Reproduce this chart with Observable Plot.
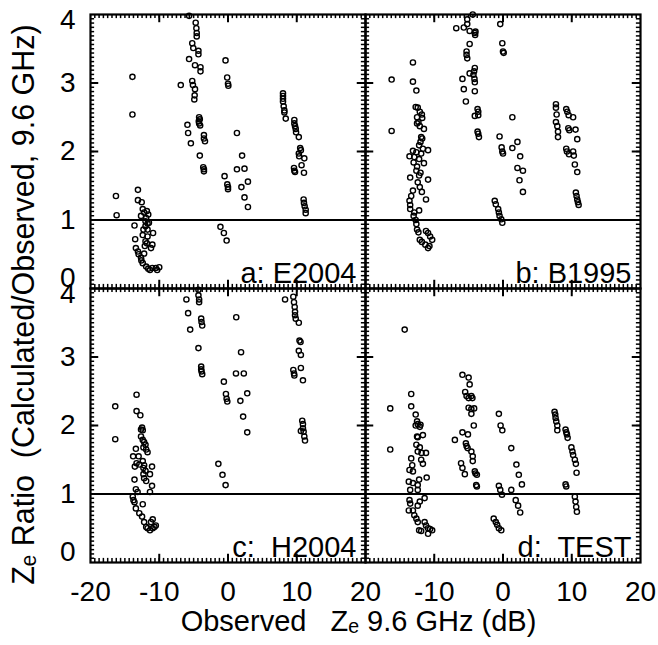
<!DOCTYPE html>
<html>
<head>
<meta charset="utf-8">
<script src="https://cdn.jsdelivr.net/npm/d3@7"></script>
<script src="https://cdn.jsdelivr.net/npm/@observablehq/plot@0.6"></script>
<style>
  body { margin: 0; background: #fff; }
  svg text { white-space: pre; }
</style>
</head>
<body>
<div id="chart"></div>
<script>
// ---- data ----
const panelA = [
  [-16.3,1.35],[-16.2,1.07],[-13.9,3.09],[-13.9,2.54],
  [-13.1,1.44],[-13.1,1.29],[-12.55,1.26],[-12.4,1.16],[-12.65,1.06],[-12.2,1.11],[-11.9,1.03],[-12.0,0.98],[-11.7,0.95],
  [-13.6,0.92],[-13.5,0.72],[-13.4,0.59],[-13.1,0.54],[-13.0,0.5],[-12.65,0.45],[-12.6,0.41],[-12.4,0.37],[-12.2,0.51],
  [-11.9,0.32],[-11.6,0.29],[-11.35,0.27],[-11.0,0.30],[-10.5,0.30],[-10.0,0.31],[-10.3,0.27],
  [-11.2,0.59],[-11.0,0.64],[-10.9,0.81],[-11.7,0.76],[-12.0,0.69],[-12.3,0.86],[-12.0,0.91],[-11.5,0.96],[-11.7,0.86],
  [-12.4,0.78],[-11.6,1.08],[-11.8,1.13],[-12.1,0.62],[-11.8,0.66],
  [-5.66,3.98],[-4.7,3.88],[-4.6,3.80],[-4.55,3.73],[-4.55,3.68],[-5.2,3.58],[-5.05,3.51],[-4.3,3.47],[-4.3,3.42],
  [-5.66,3.35],[-4.8,3.26],[-4.0,3.23],[-4.0,3.17],[-6.87,2.97],[-5.2,3.03],[-5.1,2.97],[-4.8,2.91],[-4.85,2.82],
  [-4.9,2.76],[-4.2,2.50],[-4.1,2.47],[-4.25,2.44],[-4.2,2.41],[-4.05,2.38],[-5.9,2.39],[-5.8,2.27],[-5.4,2.12],
  [-4.1,1.94],[-3.5,2.24],[-3.5,2.19],[-3.35,2.15],[-3.6,1.77],[-3.5,1.74],[-3.5,1.71],
  [-0.36,3.33],[-0.12,3.08],[0,2.99],[0.05,2.96],[-1.1,0.90],[-0.6,0.81],[-0.2,0.70],[-0.5,1.64],[-0.1,1.52],[0,1.48],[0,1.45],
  [1.3,2.27],[2.05,1.94],[1.3,1.74],[2.4,1.75],[1.95,1.48],[2.9,1.56],[2.4,1.33],[2.9,1.19],
  [8.0,2.85],[8.0,2.81],[8.0,2.77],[8.0,2.73],[8.1,2.66],[8.2,2.60],[8.2,2.57],[8.4,2.48],[9.65,2.46],[9.65,2.41],
  [9.75,2.37],[9.85,2.33],[9.9,2.28],[10.3,2.21],[10.5,2.05],[10.6,2.02],[10.3,1.97],[10.35,1.93],[11.1,1.9],[10.7,1.80],
  [11.05,1.69],[9.6,1.76],[9.65,1.72],[9.75,1.70],[11.0,1.30],[11.05,1.25],[11.15,1.20],[11.3,1.15],[11.3,1.10]
];
const panelB = [
  [-16.2,3.05],[-16.2,2.30],[-13.1,3.30],[-13.1,3.02],[-12.6,2.89],
  [-12.7,2.65],[-12.4,2.64],[-12.1,2.58],[-11.8,2.54],[-11.75,2.49],[-12.5,2.50],[-12.3,2.43],[-12.5,2.41],[-12.1,2.37],[-11.5,2.33],
  [-11.9,2.21],[-11.75,2.19],[-12.0,2.14],[-12.2,2.09],[-11.65,2.04],[-10.9,2.02],[-13.1,2.01],[-12.6,1.99],[-11.9,1.97],
  [-13.6,1.93],[-12.9,1.92],[-12.2,1.89],[-11.5,1.83],[-13.0,1.84],[-12.5,1.78],[-12.6,1.72],[-12.0,1.69],[-12.2,1.65],
  [-10.9,1.59],[-13.5,1.62],[-12.4,1.55],[-12.1,1.48],[-11.8,1.41],[-13.1,1.43],[-13.35,1.35],[-11.2,1.30],[-13.6,1.28],
  [-13.5,1.22],[-13.5,1.16],[-12.2,1.14],[-12.9,1.11],[-13.0,1.06],[-12.7,1.0],[-12.6,0.94],[-12.5,0.86],[-12.3,0.82],
  [-11.2,0.84],[-10.9,0.81],[-10.6,0.76],[-10.3,0.71],[-12.1,0.71],[-11.8,0.68],[-11.3,0.64],[-10.9,0.59],[-10.7,0.62],
  [-6.8,3.80],[-5.7,3.81],[-5.2,3.86],[-5.2,3.93],[-4.85,3.76],[-4.4,4.0],[-4.1,3.73],[-4.0,3.75],[-4.05,3.70],[-4.85,3.57],
  [-5.3,3.46],[-5.3,3.41],[-5.2,3.36],[-4.1,3.22],[-4.2,3.17],[-4.3,3.12],[-4.15,3.06],[-4.1,3.01],[-4.85,3.14],[-5.9,3.06],
  [-5.7,2.91],[-4.1,2.88],[-5.4,2.73],[-3.7,2.62],[-3.6,2.58],[-3.6,2.53],[-4.1,2.52],[-3.7,2.29],[-3.6,2.26],[-3.5,2.21],
  [-0.4,3.86],[-0.1,3.58],[0,3.46],[0.1,3.44],[-0.5,2.22],[-0.2,2.06],[-0.1,2.0],[0,1.97],
  [-1.2,1.28],[-1.05,1.23],[-0.7,1.16],[-0.6,1.11],[-0.5,1.06],[-0.25,1.01],[-0.1,0.96],
  [1.36,2.50],[1.36,2.05],[2.1,2.14],[2.5,1.93],[2.1,1.76],[2.9,1.72],[2.4,1.58],[2.9,1.41],
  [7.7,2.69],[7.7,2.64],[7.8,2.54],[7.7,2.43],[7.9,2.37],[8.0,2.29],[8.0,2.21],[9.2,2.62],[9.35,2.58],[9.55,2.53],
  [10.2,2.50],[9.5,2.34],[9.65,2.31],[10.55,2.32],[10.8,2.18],[9.2,2.04],[9.3,2.0],[9.6,1.96],[10.2,2.0],[10.3,1.94],
  [10.45,1.81],[10.8,1.70],[10.6,1.40],[10.7,1.35],[10.8,1.30],[10.9,1.26],[11.0,1.22]
];
const panelC = [
  [-16.4,2.28],[-16.4,1.80],[-13.3,2.45],[-13.3,2.21],[-12.75,2.15],
  [-12.5,1.97],[-12.65,1.94],[-12.4,1.93],[-12.65,1.84],[-12.4,1.79],[-12.2,1.76],[-12.0,1.72],[-12.3,1.68],[-11.9,1.65],[-11.7,1.61],
  [-13.4,1.66],[-13.8,1.55],[-13.0,1.55],[-13.3,1.45],[-12.9,1.43],[-13.55,1.40],
  [-12.4,1.48],[-12.2,1.42],[-12.3,1.38],[-12.0,1.34],[-12.3,1.29],[-12.2,1.23],[-11.9,1.19],
  [-11.05,1.40],[-11.35,1.29],[-13.6,1.21],[-13.4,1.07],[-13.15,1.03],[-11.05,1.12],[-11.35,1.03],
  [-13.85,0.96],[-13.75,0.91],[-13.6,0.88],[-12.4,0.85],[-13.4,0.79],[-12.9,0.72],[-12.5,0.67],[-12.2,0.59],[-11.9,0.52],
  [-11.7,0.50],[-11.35,0.47],[-10.95,0.50],[-10.7,0.52],[-10.5,0.54],[-11.2,0.59],[-10.95,0.63],
  [-6.05,3.84],[-5.8,3.64],[-5.5,3.40],[-4.3,3.98],[-4.3,3.90],[-4.2,3.84],[-4.2,3.80],[-3.9,3.56],[-3.85,3.51],[-3.75,3.46],
  [-4.3,3.13],[-3.9,2.86],[-3.9,2.82],[-3.85,2.79],[-3.75,2.75],
  [-0.6,2.64],[-0.3,2.46],[-0.2,2.39],[-0.1,2.35],[-1.4,1.44],[-0.8,1.28],[-0.35,1.13],
  [1.2,3.58],[1.9,3.07],[1.16,2.76],[2.3,2.76],[1.8,2.36],[2.8,2.47],[2.2,2.13],[2.8,1.90],
  [8.3,3.84],[9.5,3.88],[9.6,3.80],[9.7,3.73],[9.75,3.66],[9.75,3.61],[9.85,3.56],[10.3,3.50],[10.4,3.24],[10.55,3.22],
  [10.3,3.09],[10.6,3.03],[9.5,2.81],[9.6,2.76],[9.65,2.73],[10.6,2.84],[10.9,2.66],[10.8,2.07],[10.9,2.02],[10.9,1.96],
  [11.0,1.91],[11.1,1.84],[11.2,1.78],[10.6,1.92]
];
const panelD = [
  [-14.3,3.40],[-16.4,2.25],[-16.4,1.65],[-13.35,2.46],[-13.35,2.28],[-12.7,2.16],[-12.5,2.06],
  [-12.7,2.0],[-12.4,2.02],[-12.0,2.01],[-12.1,1.98],[-11.65,1.86],[-12.4,1.83],[-12.5,1.84],
  [-12.6,1.72],[-12.1,1.68],[-12.4,1.62],[-11.85,1.60],[-11.2,1.60],[-11.9,1.50],[-11.65,1.44],
  [-13.35,1.52],[-13.2,1.42],[-13.6,1.35],[-13.1,1.33],[-13.7,1.18],[-13.1,1.16],[-12.2,1.21],[-12.4,1.13],[-11.1,1.24],
  [-13.5,1.06],[-12.4,1.06],[-13.6,0.91],[-13.5,0.86],[-13.7,0.76],[-13.1,0.76],[-12.9,0.69],[-12.6,0.64],[-12.4,0.59],
  [-12.2,0.47],[-11.9,0.46],[-11.4,0.59],[-11.2,0.54],[-10.9,0.50],[-10.6,0.49],[-10.3,0.47],[-10.9,0.42],[-11.4,0.94],
  [-12.1,0.89],[-12.4,0.83],
  [-5.9,2.74],[-5.0,2.70],[-4.85,2.60],[-5.5,2.49],[-5.3,2.43],[-5.0,2.40],[-4.6,2.43],[-4.45,2.40],[-5.0,2.26],[-4.6,2.24],
  [-4.2,2.25],[-4.6,2.17],[-4.25,2.0],[-7.0,1.79],[-5.9,1.90],[-5.1,1.87],[-5.4,1.74],[-5.3,1.70],[-5.15,1.67],[-4.6,1.62],
  [-4.4,1.55],[-4.4,1.48],[-4.1,1.33],[-4.0,1.30],[-3.8,1.28],[-6.1,1.45],[-5.9,1.38],[-5.55,1.29],[-3.9,1.13],[-3.8,1.11],
  [-0.6,2.17],[-0.35,2.0],[-0.1,1.93],[-0.6,1.12],[-0.4,1.06],[-0.15,0.99],[-1.35,0.64],[-1.05,0.59],[-0.85,0.55],[-0.6,0.50],[-0.25,0.47],
  [1.2,1.67],[1.95,1.43],[2.3,1.28],[2.75,1.14],[1.2,1.06],[1.85,0.91],[2.2,0.83],[2.5,0.73],
  [7.5,2.20],[7.6,2.16],[7.65,2.11],[7.75,2.06],[7.9,2.0],[7.9,1.93],[9.1,1.94],[9.2,1.90],[9.3,1.87],[9.4,1.82],
  [9.95,1.68],[10.1,1.62],[10.2,1.57],[10.45,1.50],[10.6,1.44],[10.7,1.31],[9.1,1.14],[9.2,1.11],[10.45,0.96],[10.55,0.89],
  [10.65,0.81],[10.75,0.74]
];
const panelLabels = ["a: E2004", "b: B1995", "c:  H2004", "d:  TEST"];
const panelCols = ["left", "right", "left", "right"];
const panelRows = ["top", "top", "bottom", "bottom"];
const xTickLabelsLeft = [-20, -10, 0, 10, 20];
const xTickLabelsRight = [-10, 0, 10, 20];
const yTickLabelsMid = [1, 2, 3];
const yTickLabelLow = [0];
const yTickLabelHigh = [4];
const xMajorTicks = [-10, 0, 10];
const yMajorTicks = [1, 2, 3];
const referenceLine = [1];
const xTitle = ["Observed   Z\u2091 9.6 GHz (dB)"];
const yTitle = ["Z\u2091 Ratio  (Calculated/Observed, 9.6 GHz)"];

// ---- derived tables ----
const series = [panelA, panelB, panelC, panelD];
const points = series.flatMap((pts, i) => pts.map(([x, y]) => ({x, y, col: panelCols[i], row: panelRows[i]})));
const labels = panelLabels.map((t, i) => ({t, col: panelCols[i], row: panelRows[i]}));
const xMinor = d3.range(1, 64).map(i => -20 + i * 0.625);
const yMinor = d3.range(1, 64).map(i => i * 0.0625);
const rowsOf = arr => ["top", "bottom"].flatMap(row => arr.map(v => ({v, row})));

// tick lengths expressed in data units (about 4 px minor, 8 px major)
const yMinLen = 0.06, yMajLen = 0.12, xMinLen = 0.6, xMajLen = 1.2;

const font = "'Liberation Sans', Arial, Helvetica, sans-serif";

const chart = Plot.plot({
  width: 658,
  height: 645,
  marginLeft: 90,
  marginRight: 18,
  marginTop: 13,
  marginBottom: 83,
  style: {fontFamily: font, background: "#fff", color: "#000"},
  x: {domain: [-20, 20], axis: null},
  y: {domain: [0, 4], axis: null},
  fx: {domain: ["left", "right"], padding: 0, axis: null},
  fy: {domain: ["top", "bottom"], padding: 0, axis: null},
  marks: [
    Plot.frame({stroke: "#000", strokeWidth: 2.2}),
    // minor ticks around every panel
    Plot.ruleX(xMinor, {x: d => d, y1: 0, y2: yMinLen, stroke: "#000", strokeWidth: 1.5}),
    Plot.ruleX(xMinor, {x: d => d, y1: 4 - yMinLen, y2: 4, stroke: "#000", strokeWidth: 1.5}),
    Plot.ruleY(yMinor, {y: d => d, x1: -20, x2: -20 + xMinLen, stroke: "#000", strokeWidth: 1.5}),
    Plot.ruleY(yMinor, {y: d => d, x1: 20 - xMinLen, x2: 20, stroke: "#000", strokeWidth: 1.5}),
    // major ticks
    Plot.ruleX(xMajorTicks, {x: d => d, y1: 0, y2: yMajLen, stroke: "#000", strokeWidth: 2}),
    Plot.ruleX(xMajorTicks, {x: d => d, y1: 4 - yMajLen, y2: 4, stroke: "#000", strokeWidth: 2}),
    Plot.ruleY(yMajorTicks, {y: d => d, x1: -20, x2: -20 + xMajLen, stroke: "#000", strokeWidth: 2}),
    Plot.ruleY(yMajorTicks, {y: d => d, x1: 20 - xMajLen, x2: 20, stroke: "#000", strokeWidth: 2}),
    Plot.ruleY(referenceLine, {stroke: "#000", strokeWidth: 2}),
    Plot.dot(points, {x: "x", y: "y", fx: "col", fy: "row", r: 2.6, stroke: "#000", strokeWidth: 1.4, fill: "none"}),
    Plot.text(labels, {text: "t", fx: "col", fy: "row", frameAnchor: "bottom-right", textAnchor: "end", lineAnchor: "bottom", dx: -9, dy: -6, fontSize: 29, fill: "#000"}),
    Plot.text(xTickLabelsLeft, {x: d => d, fx: () => "left", fy: () => "bottom", frameAnchor: "bottom", dy: 38, fontSize: 28, fill: "#000"}),
    Plot.text(xTickLabelsRight, {x: d => d, fx: () => "right", fy: () => "bottom", frameAnchor: "bottom", dy: 38, fontSize: 28, fill: "#000"}),
    Plot.text(rowsOf(yTickLabelsMid), {y: "v", text: "v", fx: () => "left", fy: "row", frameAnchor: "left", textAnchor: "end", dx: -15, fontSize: 28, fill: "#000"}),
    Plot.text(rowsOf(yTickLabelLow), {y: "v", text: "v", fx: () => "left", fy: "row", frameAnchor: "left", textAnchor: "end", dx: -15, dy: -10, fontSize: 28, fill: "#000"}),
    Plot.text(rowsOf(yTickLabelHigh), {y: "v", text: "v", fx: () => "left", fy: "row", frameAnchor: "left", textAnchor: "end", dx: -15, dy: 6, fontSize: 28, fill: "#000"}),
    Plot.text(xTitle, {facet: "super", frameAnchor: "bottom", textAnchor: "middle", dx: -7, dy: 68, fontSize: 29, fill: "#000"}),
    Plot.text(yTitle, {facet: "super", frameAnchor: "left", textAnchor: "middle", rotate: -90, dx: -66, dy: 16, fontSize: 30.5, fill: "#000"})
  ]
});
document.getElementById("chart").appendChild(chart);
</script>
</body>
</html>
